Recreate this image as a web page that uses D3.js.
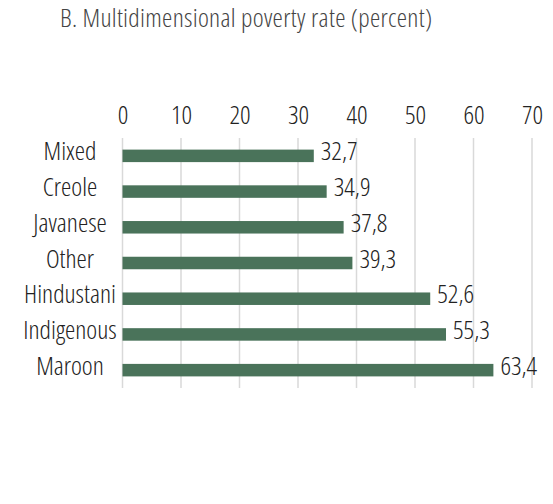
<!DOCTYPE html>
<html>
<head>
<meta charset="utf-8">
<script src="https://cdn.jsdelivr.net/npm/d3@7"></script>
<style>
  html, body { margin: 0; padding: 0; background: #fff; }
  svg text { font-family: "Open Sans", sans-serif; font-weight: 300; font-stretch: 75%; }
</style>
</head>
<body>
<svg id="chart" width="553" height="504"></svg>
<script>
// Multidimensional poverty rate by ethnic group (percent)
const categories = ["Mixed", "Creole", "Javanese", "Other", "Hindustani", "Indigenous", "Maroon"];
const values = [32.7, 34.9, 37.8, 39.3, 52.6, 55.3, 63.4];
const tickValues = [0, 10, 20, 30, 40, 50, 60, 70];
const title = "B. Multidimensional poverty rate (percent)";

const svg = d3.select("#chart");
const margin = { left: 122.5, right: 21, top: 138, bottom: 116 };
const W = 553, H = 504;
const FS = 26;

const x = d3.scaleLinear().domain([0, 70]).range([margin.left, W - margin.right]);
const y = d3.scaleBand().domain(categories).range([margin.top, H - margin.bottom]).paddingInner(0.65).paddingOuter(0.325);

const fmt = v => d3.format(".1f")(v).replace(".", ",");

// Title
svg.append("text")
  .attr("x", 60).attr("y", 27)
  .attr("font-size", FS).attr("fill", "#444")
  .style("letter-spacing", "0.3px")
  .text(title);

// Vertical gridlines
svg.append("g").selectAll("line").data(tickValues).join("line")
  .attr("x1", d => x(d)).attr("x2", d => x(d))
  .attr("y1", margin.top).attr("y2", H - margin.bottom)
  .attr("stroke", "#d9d9d9").attr("stroke-width", 1.5);

// Top axis labels
const axis = d3.axisTop(x).tickValues(tickValues).tickSize(0).tickPadding(0).tickFormat(d3.format("d"));
const gAxis = svg.append("g").attr("transform", "translate(0, 124)").call(axis);
gAxis.select(".domain").remove();
gAxis.attr("font-family", null).attr("font-size", null);
gAxis.selectAll("text").attr("font-size", FS).attr("fill", "#222").attr("dy", 0);

// Bars
svg.append("g").selectAll("rect").data(values).join("rect")
  .attr("x", x(0))
  .attr("y", (d, i) => y(categories[i]))
  .attr("width", d => x(d) - x(0))
  .attr("height", y.bandwidth())
  .attr("fill", "#4a735a");

// Category labels
svg.append("g").selectAll("text").data(categories).join("text")
  .attr("x", 70)
  .attr("y", d => y(d) + y.bandwidth() / 2 + 4.5)
  .attr("text-anchor", "middle")
  .attr("font-size", FS).attr("fill", "#222")
  .text(d => d);

// Value labels
svg.append("g").selectAll("text").data(values).join("text")
  .attr("x", d => x(d) + 7)
  .attr("y", (d, i) => y(categories[i]) + y.bandwidth() / 2 + 4.5)
  .attr("font-size", FS).attr("fill", "#222")
  .text(d => fmt(d));
</script>
</body>
</html>
